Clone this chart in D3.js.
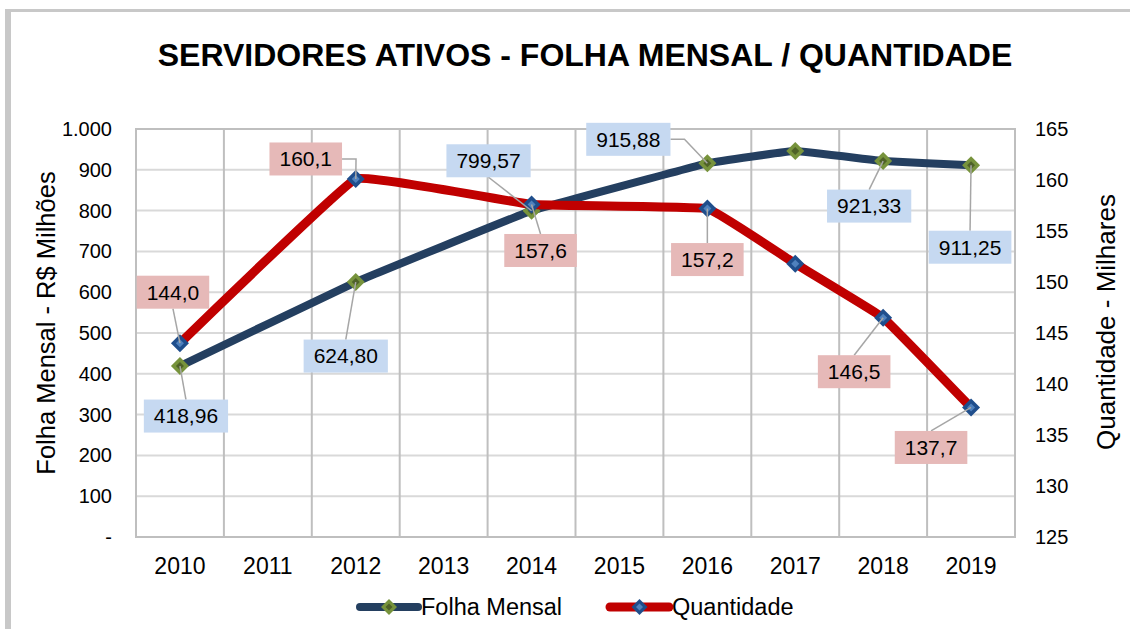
<!DOCTYPE html>
<html>
<head>
<meta charset="utf-8">
<script src="https://cdn.jsdelivr.net/npm/d3@7"></script>
<style>
  html, body { margin: 0; padding: 0; background: #fff; }
  svg { display: block; font-family: "Liberation Sans", Arial, sans-serif; }
</style>
</head>
<body>
<svg id="chart" width="1130" height="629"></svg>
<script>
// ---------------- data ----------------
const years = ["2010","2011","2012","2013","2014","2015","2016","2017","2018","2019"];
const folhaMensal = [418.96, null, 624.80, null, 799.57, null, 915.88, 946, 921.33, 911.25];
const quantidade  = [144.0, null, 160.1, null, 157.6, null, 157.2, 151.8, 146.5, 137.7];
const folhaLabels = ["418,96", null, "624,80", null, "799,57", null, "915,88", null, "921,33", "911,25"];
const quantLabels = ["144,0", null, "160,1", null, "157,6", null, "157,2", null, "146,5", "137,7"];
const leftTicks = [0,100,200,300,400,500,600,700,800,900,1000];
const leftTickLabels = ["-","100","200","300","400","500","600","700","800","900","1.000"];
const rightTicks = [125,130,135,140,145,150,155,160,165];
const seriesNames = ["Folha Mensal", "Quantidade"];
const title = "SERVIDORES ATIVOS - FOLHA MENSAL / QUANTIDADE";
const leftTitle = "Folha Mensal - R$ Milhões";
const rightTitle = "Quantidade - Milhares";

// label box placement (offset of box centre from point, px) – layout only
const folhaLabelOffsets = [[6,50],null,[-10,74],null,[-43,-50],null,[-79,-24],null,[-14,45],[-1,82]];
const quantLabelOffsets = [[-7,-51],null,[-50,-20],null,[9,46],null,[0,51],null,[-29,54],[-40,40]];

// ---------------- layout ----------------
const svg = d3.select("#chart");
const P = {left:136, right:1015, top:129, bottom:537};
const C = {folha:"#243F60", quant:"#C00000", grid:"#D9D9D9", vgrid:"#BFBFBF",
           folhaBox:"#C6D9F1", quantBox:"#E6B9B8", leader:"#A6A6A6"};

const x = d3.scaleBand().domain(years).range([P.left, P.right]).padding(0);
const yL = d3.scaleLinear().domain([0,1000]).range([P.bottom, P.top]);
const yR = d3.scaleLinear().domain([125,165]).range([P.bottom, P.top]);
const cx = d => x(d) + x.bandwidth()/2;

// outer chart border (left + top visible)
svg.append("rect").attr("x",5).attr("y",9).attr("width",6).attr("height",629-9).attr("fill","#C8C8C8");
svg.append("rect").attr("x",5).attr("y",9).attr("width",1130-5).attr("height",3).attr("fill","#C8C8C8");

// title
svg.append("text").attr("x",585).attr("y",66).attr("text-anchor","middle")
  .attr("font-size",32).attr("font-weight","bold").attr("fill","#000").text(title);

// horizontal grid
svg.append("g").selectAll("line").data(leftTicks).join("line")
  .attr("x1",P.left).attr("x2",P.right).attr("y1",d=>yL(d)).attr("y2",d=>yL(d))
  .attr("stroke",C.grid).attr("stroke-width",2);
// vertical grid at category boundaries
svg.append("g").selectAll("line").data(years.slice(1)).join("line")
  .attr("x1",d=>x(d)).attr("x2",d=>x(d)).attr("y1",P.top).attr("y2",P.bottom)
  .attr("stroke",C.vgrid).attr("stroke-width",2);
// plot border
svg.append("rect").attr("x",P.left).attr("y",P.top).attr("width",P.right-P.left).attr("height",P.bottom-P.top)
  .attr("fill","none").attr("stroke",C.vgrid).attr("stroke-width",2);

// axes
const axL = svg.append("g").attr("transform",`translate(${P.left},0)`)
  .call(d3.axisLeft(yL).tickValues(leftTicks).tickFormat((d,i)=>leftTickLabels[i]).tickSize(0).tickPadding(24));
const axR = svg.append("g").attr("transform",`translate(${P.right},0)`)
  .call(d3.axisRight(yR).tickValues(rightTicks).tickFormat(d3.format("d")).tickSize(0).tickPadding(20));
const axB = svg.append("g").attr("transform",`translate(0,${P.bottom})`)
  .call(d3.axisBottom(x).tickSize(0));
[axL, axR, axB].forEach(a => {
  a.select(".domain").remove();
  a.selectAll("text").attr("font-family","Liberation Sans, Arial, sans-serif").attr("fill","#000");
});
axL.selectAll("text").attr("font-size",20);
axR.selectAll("text").attr("font-size",20);
axB.selectAll("text").attr("font-size",23).attr("y",37).attr("dy",0);

// axis titles
svg.append("text").attr("transform",`translate(55,323) rotate(-90)`).attr("text-anchor","middle")
  .attr("font-size",25.5).attr("fill","#000").text(leftTitle);
svg.append("text").attr("transform",`translate(1115,322) rotate(-90)`).attr("text-anchor","middle")
  .attr("font-size",26).attr("fill","#000").text(rightTitle);

// series data
const folhaPts = years.map((y,i)=>({y, v:folhaMensal[i], lab:folhaLabels[i], off:folhaLabelOffsets[i]})).filter(d=>d.v!=null);
const quantPts = years.map((y,i)=>({y, v:quantidade[i], lab:quantLabels[i], off:quantLabelOffsets[i]})).filter(d=>d.v!=null);

const diamond = r => `M0,${-r}L${r},0L0,${r}L${-r},0Z`;

function drawSeries(pts, yScale, color, width, mOuter, mInner) {
  const line = d3.line().x(d=>cx(d.y)).y(d=>yScale(d.v)).curve(d3.curveCardinal.tension(0.8));
  svg.append("path").datum(pts).attr("d",line).attr("fill","none").attr("stroke",color)
    .attr("stroke-width",width).attr("stroke-linecap","round").attr("stroke-linejoin","round");
  const g = svg.append("g").selectAll("g").data(pts).join("g")
    .attr("transform",d=>`translate(${cx(d.y)},${yScale(d.v)})`);
  g.append("path").attr("d",diamond(9)).attr("fill",mOuter);
  g.append("path").attr("d",diamond(4)).attr("fill",mInner);
}
drawSeries(folhaPts, yL, C.folha, 8, "#77933C", "#4F6228");
drawSeries(quantPts, yR, C.quant, 9, "#1F4E8C", "#4F81BD");

// data labels with leader lines
const labelLayer = svg.append("g");
function drawLabels(pts, yScale, fill) {
  pts.filter(d=>d.lab).forEach(d => {
    const px = cx(d.y), py = yScale(d.v);
    const bx = px + d.off[0], by = py + d.off[1];
    const t = labelLayer.append("text").attr("x",bx).attr("y",by).attr("dy","0.35em")
      .attr("text-anchor","middle").attr("font-size",21).attr("fill","#000").text(d.lab);
    const tw = t.node().getComputedTextLength();
    const w = tw + 20, h = 33;
    const x0 = bx - w/2, x1 = bx + w/2, y0 = by - h/2, y1 = by + h/2;
    const hgap = px > x1 ? px - x1 : (px < x0 ? x0 - px : 0);
    const vgap = py > y1 ? py - y1 : (py < y0 ? y0 - py : 0);
    let path;
    if (hgap > vgap && px > x1) {
      path = `M${x1},${by}L${x1+14},${by}L${px},${py}`;
    } else if (hgap > vgap && px < x0) {
      path = `M${x0},${by}L${x0-14},${by}L${px},${py}`;
    } else if (py > y1) {
      path = `M${bx},${y1}L${px},${py}`;
    } else {
      path = `M${bx},${y0}L${px},${py}`;
    }
    labelLayer.insert("path", "text").attr("d",path).attr("fill","none").attr("stroke",C.leader).attr("stroke-width",1.5);
    labelLayer.insert("rect", "text").attr("x",x0).attr("y",y0).attr("width",w).attr("height",h).attr("fill",fill);
  });
}
drawLabels(folhaPts, yL, C.folhaBox);
drawLabels(quantPts, yR, C.quantBox);

// legend
const legend = [
  {name:seriesNames[0], color:C.folha, w:8, mo:"#77933C", mi:"#4F6228", x0:360, x1:418, tx:421},
  {name:seriesNames[1], color:C.quant, w:9, mo:"#1F4E8C", mi:"#4F81BD", x0:610, x1:669, tx:672}
];
const lg = svg.append("g");
legend.forEach(l => {
  lg.append("line").attr("x1",l.x0).attr("x2",l.x1).attr("y1",607).attr("y2",607)
    .attr("stroke",l.color).attr("stroke-width",l.w).attr("stroke-linecap","round");
  const m = lg.append("g").attr("transform",`translate(${(l.x0+l.x1)/2},607)`);
  m.append("path").attr("d",diamond(8)).attr("fill",l.mo);
  m.append("path").attr("d",diamond(3.5)).attr("fill",l.mi);
  lg.append("text").attr("x",l.tx).attr("y",615).attr("font-size",23.5).attr("fill","#000").text(l.name);
});
</script>
</body>
</html>
